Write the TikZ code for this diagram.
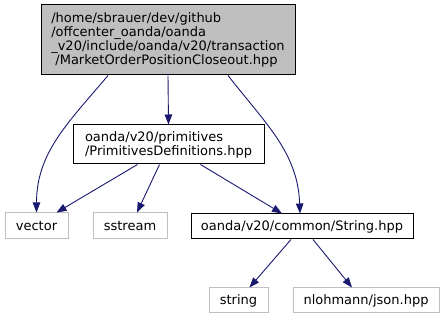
\documentclass[tikz,border=0pt]{standalone}
\usepackage{fontspec}
\setmainfont{DejaVu Sans}
\usetikzlibrary{arrows.meta}
\definecolor{edgeblue}{HTML}{191970}
\definecolor{sysgray}{HTML}{BFBFBF}
\begin{document}
\begin{tikzpicture}[x=1pt,y=-1pt,
  every node/.style={font=\fontsize{13}{14}\selectfont, inner sep=0pt, align=left},
  filebox/.style={draw=black, line width=1pt, rectangle},
  sysbox/.style={draw=sysgray, line width=1pt, rectangle},
  rootbox/.style={filebox, fill=sysgray},
  dep/.style={draw=edgeblue, line width=0.9pt, -{Triangle[length=10pt,width=7.5pt,fill=edgeblue]}}
]
\useasboundingbox (0,0) rectangle (445,320);

\node[rootbox, minimum width=254, minimum height=70] (root) at (168,40)
  {/home/sbrauer/dev/github\\/offcenter\_oanda/oanda\\\_v20/include/oanda/v20/transaction\\\ /MarketOrderPositionCloseout.hpp};
\node[filebox, minimum width=191, minimum height=39] (prim) at (168.5,144.5)
  {oanda/v20/primitives\\/PrimitivesDefinitions.hpp};
\node[sysbox, minimum width=63, minimum height=26] (vector) at (36.5,226) {vector};
\node[sysbox, minimum width=74, minimum height=26] (sstream) at (130,226) {sstream};
\node[filebox, minimum width=222, minimum height=25] (strhpp) at (302,226.5) {oanda/v20/common/String.hpp};
\node[sysbox, minimum width=59, minimum height=25] (string) at (238.5,300.5) {string};
\node[sysbox, minimum width=146, minimum height=25] (json) at (366,300.5) {nlohmann/json.hpp};

\draw[dep] ([xshift=-60pt]root.south) to[out=-130,in=90] (vector.north);
\draw[dep] (root.south) -- (prim.north);
\draw[dep] ([xshift=60pt]root.south) to[out=-52,in=92] ([xshift=-2pt]strhpp.north);
\draw[dep] ([xshift=-31pt]prim.south) -- ([xshift=20pt]vector.north);
\draw[dep] ([xshift=-9pt]prim.south) -- ([xshift=7pt]sstream.north);
\draw[dep] ([xshift=32pt]prim.south) -- ([xshift=-20pt]strhpp.north);
\draw[dep] ([xshift=-11pt]strhpp.south) -- ([xshift=11pt]string.north);
\draw[dep] ([xshift=11pt]strhpp.south) -- ([xshift=-14pt]json.north);
\end{tikzpicture}
\end{document}
